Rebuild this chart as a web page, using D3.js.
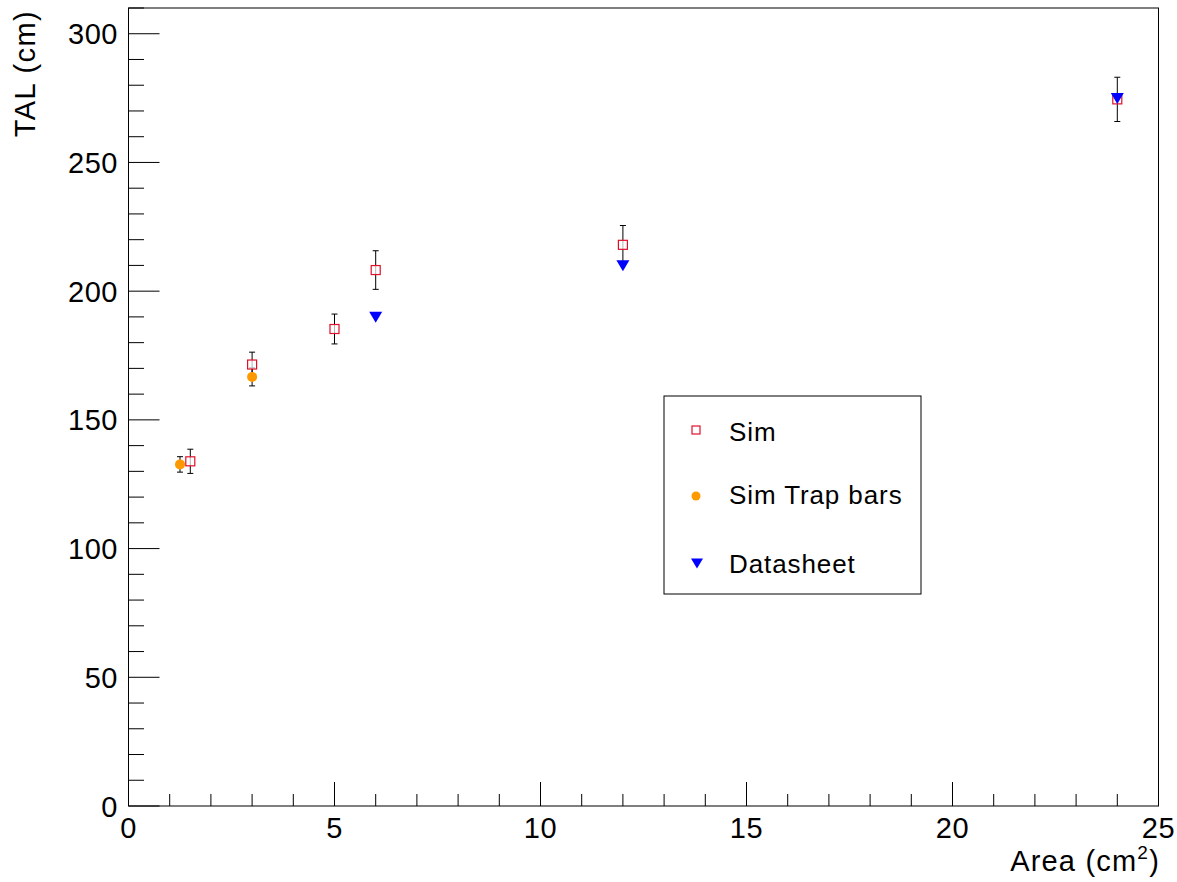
<!DOCTYPE html>
<html><head><meta charset="utf-8">
<script src="https://cdn.jsdelivr.net/npm/d3@7"></script>
<style>body{margin:0;background:#fff;} text{font-family:"Liberation Sans",Arial,sans-serif;}</style>
</head><body>
<svg id="c" width="1177" height="882"></svg>
<script>
// Data
const simX = [1.5, 3, 5, 6, 12, 24];
const simY = [133.9, 171.5, 185.3, 208.2, 218.0, 274.5];
const simErr = [4.7, 4.8, 5.8, 7.5, 7.5, 8.6];
const trapX = [1.25, 3];
const trapY = [132.7, 166.7];
const trapErr = [3.0, 3.5];
const dsX = [6, 12, 24];
const dsY = [190.5, 210.5, 275.5];
const xTicks = [0, 5, 10, 15, 20, 25];
const yTicks = [0, 50, 100, 150, 200, 250, 300];

const L = 128.5, R = 1158.5, T = 8, B = 806;
const x = d3.scaleLinear().domain([0, 25]).range([L, R]);
const y = d3.scaleLinear().domain([0, 310]).range([B, T]);
const svg = d3.select("#c");

// frame
svg.append("rect").attr("x", L).attr("y", T).attr("width", R - L).attr("height", B - T)
  .attr("fill", "none").attr("stroke", "#000").attr("stroke-width", 1);

// X axis ticks
const gx = svg.append("g");
d3.range(0, 25.01, 1).forEach(v => {
  const major = Math.abs(v % 5) < 1e-9;
  gx.append("line").attr("x1", x(v)).attr("x2", x(v)).attr("y1", B).attr("y2", B - (major ? 24 : 12))
    .attr("stroke", "#000").attr("stroke-width", 1);
});
gx.selectAll("text.xt").data(xTicks).enter().append("text").attr("class", "xt")
  .attr("x", d => x(d)).attr("y", 838).attr("text-anchor", "middle")
  .attr("font-size", 29).attr("letter-spacing", 0.5).text(d => d);

// Y axis ticks
const gy = svg.append("g");
d3.range(0, 310.01, 10).forEach(v => {
  const major = Math.abs(v % 50) < 1e-9;
  gy.append("line").attr("x1", L).attr("x2", L + (major ? 31 : 15.5)).attr("y1", y(v)).attr("y2", y(v))
    .attr("stroke", "#000").attr("stroke-width", 1);
});
gy.selectAll("text.yt").data(yTicks).enter().append("text").attr("class", "yt")
  .attr("x", 118).attr("y", d => y(d) + 10.5).attr("text-anchor", "end")
  .attr("font-size", 29).attr("letter-spacing", 0.5).text(d => d);

// Axis titles
const xt = svg.append("text").attr("x", 1160).attr("y", 871).attr("text-anchor", "end")
  .attr("font-size", 29).attr("letter-spacing", 1.2);
xt.append("tspan").text("Area (cm");
xt.append("tspan").attr("font-size", 19).attr("dy", -12).text("2");
xt.append("tspan").attr("dy", 12).text(")");
svg.append("text").attr("transform", "translate(35,10) rotate(-90)").attr("text-anchor", "end")
  .attr("font-size", 29).attr("letter-spacing", 1.4).text("TAL (cm)");

// Error bars helper
function errBars(xs, ys, es) {
  const g = svg.append("g").attr("stroke", "#000").attr("stroke-width", 1);
  xs.forEach((xv, i) => {
    const cx = x(xv), y1 = y(ys[i] + es[i]), y2 = y(ys[i] - es[i]);
    g.append("line").attr("x1", cx).attr("x2", cx).attr("y1", y1).attr("y2", y2);
    g.append("line").attr("x1", cx - 3).attr("x2", cx + 3).attr("y1", y1).attr("y2", y1);
    g.append("line").attr("x1", cx - 3).attr("x2", cx + 3).attr("y1", y2).attr("y2", y2);
  });
}
errBars(simX, simY, simErr);
errBars(trapX, trapY, trapErr);

const triPath = s => `M${-s},${-s * 0.6} L${s},${-s * 0.6} L0,${s * 1.1} Z`;

// Sim (red open squares)
svg.append("g").selectAll("rect").data(simX).enter().append("rect")
  .attr("x", d => x(d) - 4.5).attr("y", (d, i) => y(simY[i]) - 4.5)
  .attr("width", 9).attr("height", 9).attr("fill", "#fff").attr("fill-opacity", 0.7)
  .attr("stroke", "#e0102a").attr("stroke-width", 1.2);

// Trap bars (orange circles)
svg.append("g").selectAll("circle").data(trapX).enter().append("circle")
  .attr("cx", d => x(d)).attr("cy", (d, i) => y(trapY[i])).attr("r", 5).attr("fill", "#ff9900");

// Datasheet (blue triangles)
svg.append("g").selectAll("path").data(dsX).enter().append("path")
  .attr("transform", (d, i) => `translate(${x(d)},${y(dsY[i])})`)
  .attr("d", triPath(6.5)).attr("fill", "#0000ff");

// Legend
const lg = svg.append("g");
lg.append("rect").attr("x", 664).attr("y", 396).attr("width", 257).attr("height", 198)
  .attr("fill", "#fff").attr("stroke", "#000").attr("stroke-width", 1);
lg.append("rect").attr("x", 692).attr("y", 426).attr("width", 8).attr("height", 8)
  .attr("fill", "none").attr("stroke", "#e0102a").attr("stroke-width", 1.2);
lg.append("circle").attr("cx", 696).attr("cy", 496).attr("r", 4.5).attr("fill", "#ff9900");
lg.append("path").attr("transform", "translate(697,562)").attr("d", triPath(6)).attr("fill", "#0000ff");
const legTexts = ["Sim", "Sim Trap bars", "Datasheet"];
const legY = [441, 504, 573];
lg.selectAll("text").data(legTexts).enter().append("text")
  .attr("x", 729).attr("y", (d, i) => legY[i]).attr("font-size", 26).attr("letter-spacing", 0.9).text(d => d);
</script>
</body></html>
